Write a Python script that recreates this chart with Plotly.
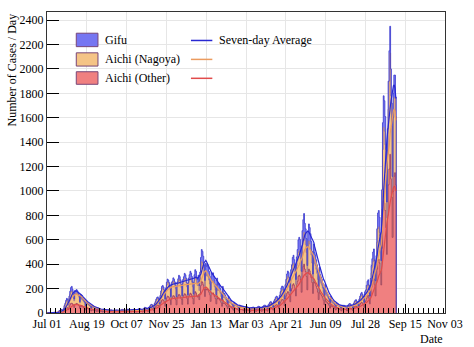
import pandas as pd
import plotly.graph_objects as go

START = "2020-07-01"
# Daily confirmed cases, one row per week (Wed..Tue)
aichi_other = [
    0,1,0,1,0,0,1, 2,3,2,2,1,1,3, 6,8,10,12,11,7,14, 25,32,40,45,42,28,55,
    68,78,80,75,65,45,72, 72,78,75,68,60,38,62, 55,52,50,45,40,25,45, 38,36,33,30,27,17,28,
    24,24,22,20,17,11,20, 16,17,16,14,12,7,14, 14,14,13,12,10,6,13, 11,12,12,10,9,5,11,
    12,11,12,11,9,6,10, 13,15,14,12,11,6,13, 14,16,15,14,12,7,14, 13,15,14,12,11,7,12,
    16,18,17,16,13,8,17, 20,24,23,21,18,11,24, 28,34,36,35,30,18,40, 48,58,64,66,60,38,72,
    88,105,110,104,92,55,100, 125,138,134,125,108,68,124, 130,142,138,126,110,67,127,
    138,152,146,132,115,70,135, 145,158,152,139,119,73,139, 148,162,155,142,120,74,150,
    175,165,140,130,150,110,160, 225,260,250,230,195,135,200, 190,200,185,170,150,95,165,
    158,165,150,135,118,75,140, 115,120,112,100,85,55,110, 78,80,74,65,55,35,70,
    50,52,48,42,36,23,44, 35,37,34,30,26,16,32, 28,29,27,24,20,13,27, 25,27,25,22,19,12,24,
    24,26,26,23,19,12,24, 27,29,28,25,21,13,26, 30,33,33,30,26,16,34, 38,44,46,44,38,24,50,
    56,64,68,66,58,36,72, 88,104,112,110,96,60,118, 140,162,175,170,150,92,180,
    200,230,240,225,200,140,235, 260,300,310,300,270,170,340, 380,400,360,340,300,190,330,
    360,345,320,290,250,160,280, 250,240,220,200,170,110,190, 160,150,140,125,105,68,120,
    95,90,82,75,62,40,72, 55,52,48,45,38,25,44, 37,38,35,32,27,18,34, 33,35,33,30,26,17,34,
    38,42,41,37,32,21,42, 50,56,58,52,45,30,62, 72,82,88,80,70,45,90,
    100,120,140,145,120,75,150, 210,240,270,280,230,140,250, 360,430,440,410,330,230,530,
    820,920,900,840,700,480,800, 1050,1180,1300,1100,950,620,1000, 1120,1150,1050,
]
aichi_nagoya = [
    1,0,0,1,0,0,1, 1,2,3,2,2,1,3, 7,10,12,15,14,8,18, 30,40,52,60,55,35,65,
    85,95,100,90,80,55,85, 82,90,85,78,70,45,72, 60,56,52,48,42,28,46, 38,35,32,30,26,16,28,
    22,21,20,18,15,9,18, 14,15,13,12,11,6,13, 11,12,11,10,9,5,11, 10,11,10,9,8,5,10,
    9,11,10,10,8,5,9, 11,12,12,10,9,5,11, 11,12,12,11,9,5,11, 11,12,11,10,9,5,11,
    13,14,14,12,11,7,13, 15,18,17,16,13,8,17, 20,26,28,26,22,14,30, 36,45,50,52,46,30,56,
    75,90,92,88,78,48,85, 104,114,110,101,88,55,101, 105,116,110,103,88,53,101,
    110,121,117,108,92,55,108, 114,125,121,110,95,57,110, 116,126,120,110,94,58,116,
    120,115,100,95,105,75,115, 140,160,160,145,120,80,125, 115,120,112,100,88,55,100,
    95,98,90,80,70,45,82, 70,74,68,60,50,33,64, 48,50,45,40,34,22,42,
    33,34,31,28,24,15,29, 23,25,22,20,17,11,22, 18,19,18,16,14,9,18, 16,17,16,14,12,8,15,
    15,17,16,15,12,8,15, 18,19,18,17,14,9,17, 21,23,23,21,18,11,24, 28,33,35,33,28,18,37,
    42,48,52,50,43,27,53, 64,76,80,78,70,42,84, 100,118,125,120,105,65,127,
    140,160,165,150,135,95,155, 170,195,200,195,175,110,215, 240,260,235,220,195,125,215,
    230,220,205,185,160,100,180, 155,150,138,125,105,68,118, 100,94,88,78,65,42,74,
    57,54,50,45,37,24,44, 33,32,29,27,23,15,26, 22,23,21,19,16,11,21, 20,21,20,18,15,10,20,
    24,26,25,22,19,13,25, 32,36,38,34,29,19,38, 48,55,58,53,46,30,60,
    60,72,80,85,72,42,88, 120,135,150,160,130,80,140, 220,260,265,250,200,130,320,
    520,600,590,540,450,300,500, 620,720,830,680,580,380,600, 640,620,560,
]
gifu = [
    0,0,0,0,0,0,0, 0,0,1,0,0,0,1, 1,2,2,3,2,1,3, 6,8,12,15,14,8,18,
    25,35,38,30,25,15,28, 25,24,22,20,18,10,20, 15,14,13,12,10,6,11, 9,8,8,7,6,4,7,
    5,5,4,4,3,2,5, 3,4,3,3,2,1,4, 2,3,2,2,2,1,2, 2,2,3,2,1,1,3,
    2,3,2,2,2,1,2, 2,3,2,3,2,1,2, 3,4,3,3,3,1,3, 3,4,3,3,2,2,3,
    3,4,4,3,3,2,3, 4,5,5,4,4,2,5, 5,6,7,7,6,4,8, 9,11,13,14,12,8,15,
    18,22,24,22,19,12,21, 24,26,25,23,20,12,24, 27,30,29,26,22,14,27,
    32,36,35,32,27,17,31, 38,42,40,37,32,19,37, 50,54,52,47,40,25,48,
    60,62,55,50,55,40,60, 90,100,95,90,80,52,82, 78,82,78,72,62,40,68,
    62,66,60,55,48,30,64, 46,48,44,40,34,22,44, 30,32,28,25,22,14,27,
    17,18,16,14,12,8,15, 10,11,10,9,8,5,10, 7,7,7,6,5,3,7, 6,6,5,5,4,3,6,
    5,6,6,5,4,3,6, 6,7,7,6,5,3,8, 7,8,8,7,6,4,9, 9,11,12,11,9,6,12,
    14,16,18,17,15,9,19, 22,26,29,28,25,15,30, 35,40,44,42,38,24,48,
    55,65,68,62,56,40,70, 90,105,110,108,98,62,120, 145,155,140,130,115,75,130,
    140,135,125,110,95,60,105, 90,86,78,70,60,38,66, 55,52,48,42,36,23,40,
    28,27,24,22,18,12,21, 15,14,13,12,10,7,12, 9,10,9,8,7,4,9, 8,8,8,7,6,4,8,
    9,9,9,8,7,5,10, 11,12,13,12,10,7,14, 18,21,23,21,18,12,24,
    28,35,40,42,36,22,45, 60,70,80,85,70,45,80, 110,130,135,125,100,70,160,
    220,260,250,230,190,130,210, 230,250,220,220,190,120,200, 190,180,160,
]
series_names = ["Gifu", "Aichi (Nagoya)", "Aichi (Other)"]

n = len(aichi_other)
assert n == len(aichi_nagoya) == len(gifu)

df = pd.DataFrame({"other": aichi_other, "nagoya": aichi_nagoya, "gifu": gifu},
                  index=pd.date_range(START, periods=n, freq="D"))
s1 = df["other"]
s2 = s1 + df["nagoya"]
s3 = s2 + df["gifu"]

# step edges: each daily bin spans [day, day+1)
edges = list(df.index) + [df.index[-1] + pd.Timedelta(days=1)]
def stepy(s):
    return list(s.values) + [0]

FONT = "Liberation Serif, Times New Roman, serif"
fill_other = "rgb(240,128,128)"
fill_nag = "rgb(245,196,134)"
fill_gifu = "rgb(118,118,242)"
line_other = "rgb(150,50,85)"
line_nag = "rgb(170,120,125)"
line_gifu = "rgb(55,55,205)"
avg_blue = "rgb(40,40,210)"
avg_orange = "rgb(235,155,95)"
avg_red = "rgb(225,75,75)"

fig = go.Figure()
fig.add_trace(go.Scatter(x=edges, y=stepy(s1), mode="lines", line=dict(shape="hv", color=line_other, width=0.8),
                         fill="tozeroy", fillcolor=fill_other, name=series_names[2], showlegend=False))
fig.add_trace(go.Scatter(x=edges, y=stepy(s2), mode="lines", line=dict(shape="hv", color=line_nag, width=0.8),
                         fill="tonexty", fillcolor=fill_nag, name=series_names[1], showlegend=False))
fig.add_trace(go.Scatter(x=edges, y=stepy(s3), mode="lines", line=dict(shape="hv", color=line_gifu, width=0.8),
                         fill="tonexty", fillcolor=fill_gifu, name=series_names[0], showlegend=False))

centers = df.index + pd.Timedelta(hours=12)
for s, c in [(s1, avg_red), (s2, avg_orange), (s3, avg_blue)]:
    fig.add_trace(go.Scatter(x=centers, y=s.rolling(7, min_periods=1).mean(), mode="lines",
                             line=dict(color=c, width=1.2), showlegend=False))

DAY = 86400000
fig.update_xaxes(type="date", range=["2020-07-01", "2021-11-03"], tick0="2020-07-01", dtick=49 * DAY,
                 tickformat="%b %d", ticks="inside", ticklen=9, tickcolor="black", tickwidth=1,
                 showgrid=True, gridcolor="#e6e6e6", gridwidth=1,
                 showline=True, linecolor="#333333", linewidth=1, mirror=True,
                 minor=dict(dtick=49 * DAY / 8, ticks="inside", ticklen=5, tickcolor="black", showgrid=False),
                 tickfont=dict(family=FONT, size=12, color="black"), zeroline=False)
fig.update_yaxes(range=[0, 2467], dtick=200, tick0=0, ticks="inside", ticklen=12, tickcolor="black",
                 showgrid=True, gridcolor="#e6e6e6", gridwidth=1,
                 showline=True, linecolor="#333333", linewidth=1, mirror=True,
                 tickfont=dict(family=FONT, size=12, color="black"), zeroline=False)

W0, W1, H0, H1 = 47.3, 451.0, 10.7, 313.0
def px(x):
    return (x - W0) / (W1 - W0)
def py(y):
    return (H1 - y) / (H1 - H0)

shapes = []
annots = []
rows = [(32.0, 45.5, 39.3), (51.7, 65.0, 58.3), (70.7, 83.3, 77.3)]
box_fills = [fill_gifu, fill_nag, fill_other]
avg_cols = [avg_blue, avg_orange, avg_red]
line_texts = ["Seven-day Average", "", ""]
for (ya, yb, yc), fc, name, lc, lt in zip(rows, box_fills, series_names, avg_cols, line_texts):
    shapes.append(dict(type="rect", xref="paper", yref="paper", x0=px(77), x1=px(99), y0=py(yb), y1=py(ya),
                       fillcolor=fc, line=dict(color="rgb(120,70,120)", width=1)))
    annots.append(dict(xref="paper", yref="paper", x=px(104), y=py(yc), text=name, showarrow=False,
                       xanchor="left", yanchor="middle", font=dict(family=FONT, size=12, color="black")))
    shapes.append(dict(type="line", xref="paper", yref="paper", x0=px(193.3), x1=px(215), y0=py(yc), y1=py(yc),
                       line=dict(color=lc, width=1.5)))
    if lt:
        annots.append(dict(xref="paper", yref="paper", x=px(220), y=py(yc), text=lt, showarrow=False,
                           xanchor="left", yanchor="middle", font=dict(family=FONT, size=12, color="black")))

annots.append(dict(xref="paper", yref="paper", x=px(12), y=py(10.5), text="Number of Cases / Day", textangle=-90,
                   showarrow=False, xanchor="center", yanchor="top", font=dict(family=FONT, size=12, color="black")))
annots.append(dict(xref="paper", yref="paper", x=1.0, y=py(339), text="Date", showarrow=False,
                   xanchor="right", yanchor="middle", font=dict(family=FONT, size=12, color="black")))

fig.update_layout(width=474, height=347, margin=dict(l=47, r=23, t=11, b=34, pad=0),
                  plot_bgcolor="white", paper_bgcolor="white", shapes=shapes, annotations=annots,
                  font=dict(family=FONT, size=12, color="black"), showlegend=False)

fig.write_html("out.html")
